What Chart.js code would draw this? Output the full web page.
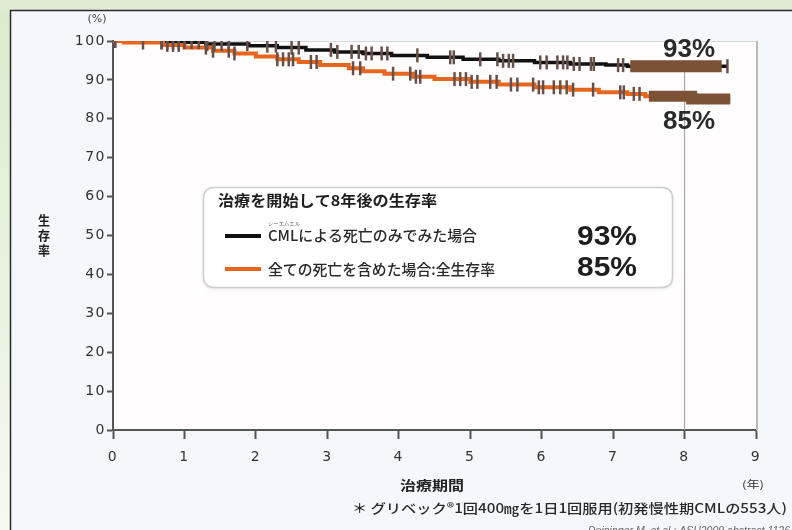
<!DOCTYPE html>
<html>
<head>
<meta charset="utf-8">
<script src="https://cdn.jsdelivr.net/npm/chart.js@4/dist/chart.umd.min.js"></script>
<style>
  html, body { margin: 0; padding: 0; background: #ffffff; }
  #wrap { width: 792px; height: 530px; }
</style>
</head>
<body>
<div id="wrap"><canvas id="c" width="792" height="530"></canvas></div>
<script>
// Kaplan-Meier survival after starting imatinib (8-year follow-up)
const yearTicks = [0, 1, 2, 3, 4, 5, 6, 7, 8, 9];
const percentTicks = [0, 10, 20, 30, 40, 50, 60, 70, 80, 90, 100];

// Survival counting CML-related deaths only (step times in years, survival in %)
const cmlTimes    = [0, 0.5, 1.3, 1.9, 2.3, 2.7, 3.1, 3.5, 3.9, 4.4, 4.9, 5.4, 5.9, 6.4, 6.9, 7.2, 8.6];
const cmlSurvival = [100, 99.7, 99.2, 98.8, 98.3, 97.7, 97.2, 96.8, 96.3, 95.8, 95.3, 94.9, 94.5, 94.1, 93.8, 93.5, 93.5];

// Overall survival, all deaths counted
const osTimes    = [0, 0.15, 0.7, 1.0, 1.4, 1.7, 2.0, 2.3, 2.6, 2.9, 3.3, 3.5, 3.8, 4.2, 4.5, 5.0, 5.4, 5.9, 6.4, 6.8, 7.2, 7.45, 8.1, 8.64];
const osSurvival = [100, 99.6, 99.0, 98.3, 97.5, 96.8, 96.0, 95.3, 94.6, 93.8, 93.0, 92.2, 91.6, 90.8, 90.2, 89.5, 88.8, 88.1, 87.5, 86.8, 86.4, 85.8, 85.1, 85.1];

// Censored observations (years)
const cmlCensor = [0.03, 0.68, 0.76, 0.84, 0.92, 1.0, 1.1, 1.2, 1.32, 1.42, 1.52, 1.62, 1.88, 2.16, 2.28, 2.5, 2.6,
  3.05, 3.14, 3.34, 3.44, 3.54, 3.62, 3.76, 3.84, 4.26, 4.72, 4.77, 5.14, 5.38, 5.46, 5.54, 5.6, 5.98, 6.07,
  6.22, 6.3, 6.36, 6.45, 6.53, 6.69, 6.73, 7.07, 7.14, 8.6];
const osCensor = [0.03, 0.42, 0.68, 0.76, 0.84, 0.92, 1.3, 1.4, 1.62, 1.7, 2.3, 2.38, 2.46, 2.52, 2.77, 2.85,
  3.36, 3.46, 3.92, 4.16, 4.24, 4.3, 4.78, 4.86, 4.94, 5.02, 5.1, 5.28, 5.37, 5.57, 5.66, 5.88, 5.96, 6.02,
  6.17, 6.26, 6.35, 6.44, 6.72, 7.1, 7.15, 7.29, 7.37];

// Spans where censor marks are packed so tightly they merge into a solid band
const cmlDenseSpan = [7.24, 8.52];
const osDenseSpan  = [7.5, 8.1, 8.64];

const legendTitle = '治療を開始して8年後の生存率';
const legendLabels = ['CMLによる死亡のみでみた場合', '全ての死亡を含めた場合:全生存率'];
const rateLabels = ['93%', '85%'];

const JP = '"Noto Sans CJK JP", "Noto Sans", sans-serif';
const NUM = '"DejaVu Sans", "Liberation Sans", sans-serif';
const BOLDNUM = '"Liberation Sans", Arial, sans-serif';

function survAt(times, surv, t) {
  let v = surv[0];
  for (let i = 0; i < times.length; i++) if (times[i] <= t) v = surv[i];
  return v;
}
const toPts = (times, surv) => times.map((t, i) => ({ x: t, y: surv[i] }));
const onCurve = (ts, times, surv) => ts.map(t => ({ x: t, y: survAt(times, surv, t) }));

const BROWN = '#7b5235';
const TICKMARK = '#67504a';

function drawText(ctx, s, x, y, font, color, width, align) {
  ctx.save();
  ctx.font = font;
  ctx.fillStyle = color;
  ctx.textBaseline = 'middle';
  ctx.textAlign = 'left';
  const w = ctx.measureText(s).width;
  const target = width || w;
  const k = target / w;
  let left = x;
  if (align === 'center') left = x - target / 2;
  else if (align === 'right') left = x - target;
  ctx.translate(left, y);
  ctx.scale(k, 1);
  ctx.fillText(s, 0, 0);
  ctx.restore();
}

function roundRect(ctx, x, y, w, h, r) {
  ctx.beginPath();
  ctx.moveTo(x + r, y);
  ctx.lineTo(x + w - r, y);
  ctx.quadraticCurveTo(x + w, y, x + w, y + r);
  ctx.lineTo(x + w, y + h - r);
  ctx.quadraticCurveTo(x + w, y + h, x + w - r, y + h);
  ctx.lineTo(x + r, y + h);
  ctx.quadraticCurveTo(x, y + h, x, y + h - r);
  ctx.lineTo(x, y + r);
  ctx.quadraticCurveTo(x, y, x + r, y);
  ctx.closePath();
}

const panelPlugin = {
  id: 'panel',
  beforeDraw(chart) {
    const { ctx, chartArea: a } = chart;
    ctx.save();
    // green page surround
    ctx.fillStyle = '#dfecd3';
    ctx.fillRect(0, 0, 792, 530);
    const g = ctx.createLinearGradient(0, 10, 0, 530);
    g.addColorStop(0, '#dcebcf');
    g.addColorStop(1, '#f4f9f0');
    ctx.fillStyle = g;
    ctx.fillRect(0, 10, 10, 520);
    // inner panel
    ctx.fillStyle = '#f4f8fc';
    ctx.fillRect(10, 10, 790, 530);
    ctx.strokeStyle = '#2b2b2b';
    ctx.lineWidth = 1.5;
    ctx.strokeRect(10.5, 10.5, 800, 540);
    // plot area
    ctx.fillStyle = '#fffdfd';
    ctx.fillRect(a.left, a.top, a.right - a.left + 2, a.bottom - a.top);
    ctx.restore();
    // slightly spaced tick lettering for the axes drawn next
    ctx.letterSpacing = '1.5px';
  },
  beforeDatasetsDraw(chart) {
    const { ctx, chartArea: a, scales: { x, y } } = chart;
    ctx.letterSpacing = '0px';
    ctx.save();
    // faint frame on top and right of the plot
    ctx.strokeStyle = '#d6d6d6';
    ctx.lineWidth = 1;
    ctx.beginPath();
    ctx.moveTo(a.left, a.top + 0.5);
    ctx.lineTo(a.right + 2, a.top + 0.5);
    ctx.stroke();
    ctx.strokeStyle = '#b9b9b9';
    ctx.lineWidth = 2;
    ctx.beginPath();
    ctx.moveTo(a.right + 1, a.top);
    ctx.lineTo(a.right + 1, a.bottom);
    ctx.stroke();
    // reference line at 8 years
    const x8 = x.getPixelForValue(8);
    ctx.strokeStyle = '#a8a8a8';
    ctx.lineWidth = 1.2;
    ctx.beginPath();
    ctx.moveTo(x8, y.getPixelForValue(93.5));
    ctx.lineTo(x8, a.bottom);
    ctx.stroke();
    ctx.restore();
  },
  afterDraw(chart) {
    const { ctx } = chart;
    ctx.save();
    // (%) unit and vertical axis title
    drawText(ctx, '(%)', 97, 19, '10px ' + NUM, '#444', 19, 'center');
    ['生', '存', '率'].forEach((ch, i) => {
      drawText(ctx, ch, 44, 220 + i * 15, 'bold 13px ' + JP, '#1e1e1e', 12, 'center');
    });
    // horizontal axis title and unit
    drawText(ctx, '治療期間', 432, 485, 'bold 13px ' + JP, '#222', 64, 'center');
    drawText(ctx, '(年)', 753, 484, '10px ' + JP, '#333', 22, 'center');
    // footnote
    drawText(ctx, '＊ グリベック®1回400㎎を1日1回服用(初発慢性期CMLの553人)', 352, 508, '500 13px ' + JP, '#2a2a2a', 435, 'left');
    drawText(ctx, 'Deininger M. et al.: ASH2009 abstract 1126', 588, 531, 'italic 11px "Liberation Sans", sans-serif', '#666', 202, 'left');

    // rate labels at the end of the curves
    drawText(ctx, rateLabels[0], 689, 50, 'bold 25px ' + BOLDNUM, '#2a2a2a', 52, 'center');
    drawText(ctx, rateLabels[1], 689, 122, 'bold 25px ' + BOLDNUM, '#2a2a2a', 52, 'center');

    // legend panel
    ctx.save();
    ctx.shadowColor = 'rgba(0,0,0,0.12)';
    ctx.shadowBlur = 4;
    ctx.shadowOffsetY = 1;
    roundRect(ctx, 203.5, 187.5, 469, 100, 11);
    ctx.fillStyle = '#ffffff';
    ctx.fill();
    ctx.restore();
    roundRect(ctx, 203.5, 187.5, 469, 100, 11);
    ctx.strokeStyle = '#cfcfcf';
    ctx.lineWidth = 1.5;
    ctx.stroke();

    drawText(ctx, legendTitle, 218, 200, 'bold 15px ' + JP, '#1e1e1e', 219, 'left');
    // row 1
    ctx.strokeStyle = '#111';
    ctx.lineWidth = 4;
    ctx.beginPath(); ctx.moveTo(225, 236); ctx.lineTo(261, 236); ctx.stroke();
    drawText(ctx, 'シーエムエル', 268, 223, '5px ' + JP, '#666', 32, 'left');
    drawText(ctx, legendLabels[0], 268, 235, '500 15px ' + JP, '#2a2a2a', 209, 'left');
    drawText(ctx, rateLabels[0], 577, 237, 'bold 28px ' + BOLDNUM, '#1e1e1e', 60, 'left');
    // row 2
    ctx.strokeStyle = '#e8651e';
    ctx.beginPath(); ctx.moveTo(225, 269); ctx.lineTo(261, 269); ctx.stroke();
    drawText(ctx, legendLabels[1], 268, 269, '500 15px ' + JP, '#2a2a2a', 227, 'left');
    drawText(ctx, rateLabels[1], 577, 268, 'bold 28px ' + BOLDNUM, '#1e1e1e', 60, 'left');
    ctx.restore();
  }
};

const tickFont = { family: NUM, size: 14 };

new Chart(document.getElementById('c'), {
  type: 'line',
  data: {
    datasets: [
      { // dense censor band, CML deaths
        data: onCurve(cmlDenseSpan, cmlTimes, cmlSurvival),
        borderColor: BROWN, borderWidth: 12, stepped: 'before',
        pointRadius: 0, borderCapStyle: 'butt', order: 1
      },
      { // dense censor band, overall survival
        data: onCurve(osDenseSpan, osTimes, osSurvival),
        borderColor: BROWN, borderWidth: 11, stepped: 'before',
        pointRadius: 0, borderCapStyle: 'butt', order: 1
      },
      { // censor ticks, CML deaths
        data: onCurve(cmlCensor, cmlTimes, cmlSurvival),
        showLine: false, pointStyle: 'line', rotation: 90,
        pointRadius: 7, pointBorderWidth: 2.5, pointBorderColor: TICKMARK, order: 0
      },
      { // censor ticks, overall survival
        data: onCurve(osCensor, osTimes, osSurvival),
        showLine: false, pointStyle: 'line', rotation: 90,
        pointRadius: 7, pointBorderWidth: 2.5, pointBorderColor: TICKMARK, order: 0
      },
      { // overall survival curve
        label: legendLabels[1],
        data: toPts(osTimes, osSurvival),
        borderColor: '#e8651e', borderWidth: 4, stepped: 'before',
        pointRadius: 0, order: 2
      },
      { // CML-death survival curve
        label: legendLabels[0],
        data: toPts(cmlTimes, cmlSurvival),
        borderColor: '#111111', borderWidth: 3.5, stepped: 'before',
        pointRadius: 0, order: 3
      }
    ]
  },
  options: {
    responsive: false,
    animation: false,
    devicePixelRatio: 1,
    layout: { padding: { left: 0, top: 41, right: 36, bottom: 0 } },
    plugins: { legend: { display: false }, tooltip: { enabled: false } },
    scales: {
      x: {
        type: 'linear', min: 0, max: 9,
        afterBuildTicks: s => { s.ticks = yearTicks.map(v => ({ value: v })); },
        afterFit: s => { s.height = 100; },
        border: { display: true, color: '#555', width: 2 },
        grid: { drawOnChartArea: false, drawTicks: true, tickLength: 9, tickWidth: 2, tickColor: '#555' },
        ticks: { color: '#333', font: tickFont, padding: 10, maxRotation: 0 }
      },
      y: {
        type: 'linear', min: 0, max: 100,
        afterBuildTicks: s => { s.ticks = percentTicks.map(v => ({ value: v })); },
        afterFit: s => { s.width = 113; },
        border: { display: true, color: '#555', width: 2 },
        grid: { drawOnChartArea: false, drawTicks: true, tickLength: 6, tickWidth: 2, tickColor: '#555' },
        ticks: { color: '#333', font: tickFont, padding: 1 }
      }
    }
  },
  plugins: [panelPlugin]
});
</script>
</body>
</html>
